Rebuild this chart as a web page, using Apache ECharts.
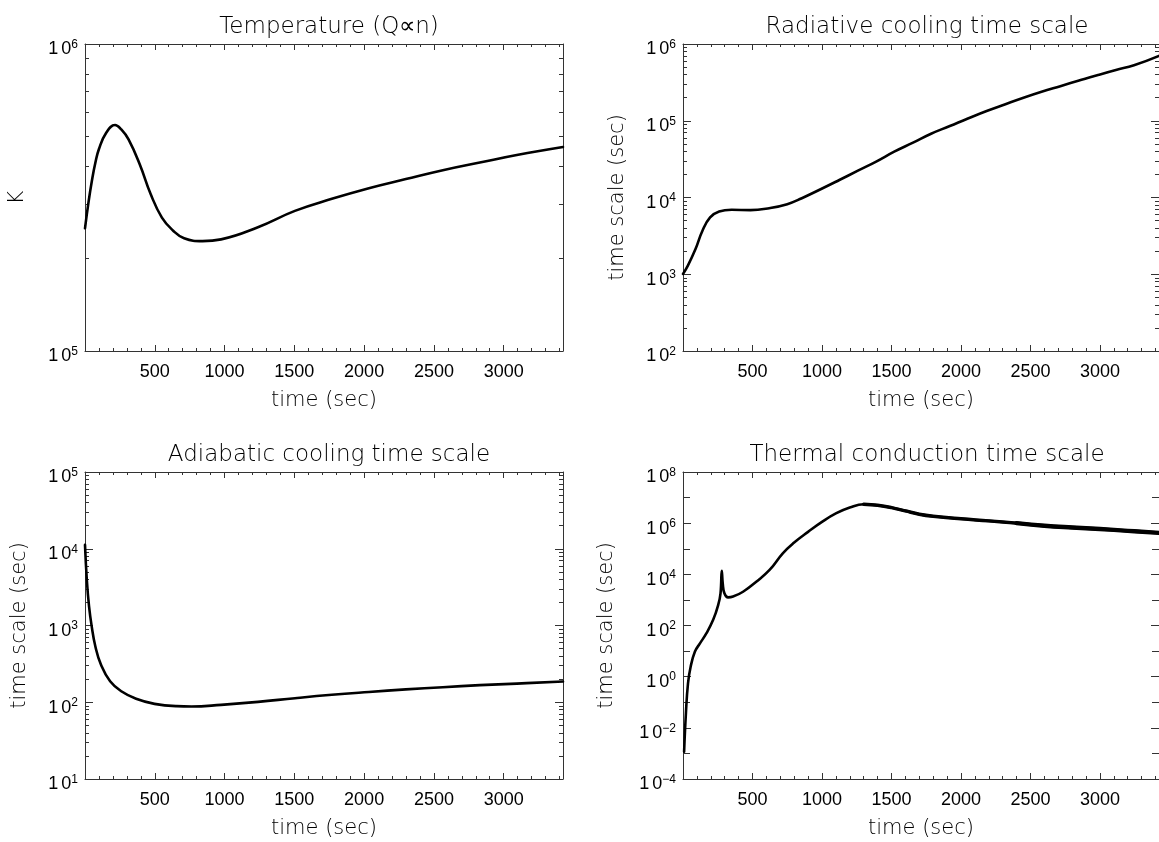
<!DOCTYPE html>
<html>
<head>
<meta charset="utf-8">
<script src="https://cdn.jsdelivr.net/npm/echarts@6/dist/echarts.min.js"></script>
<style>
  html, body { margin: 0; padding: 0; background: #fff; }
  #chart { width: 1159px; height: 842px; }
</style>
</head>
<body>
<div id="chart"></div>
<script>
// ---------------- data ----------------
// Panel 1: Temperature (K)
const tempTime = [0, 25, 50, 75, 100, 150, 215, 260, 312, 392, 471, 551, 630, 710, 842, 975, 1239, 1504, 1769, 2034, 2299, 2564, 2829, 3094, 3425];
const tempK = [2.51e5, 3.05e5, 3.6e5, 4.12e5, 4.55e5, 5.12e5, 5.45e5, 5.27e5, 4.89e5, 4.06e5, 3.24e5, 2.72e5, 2.47e5, 2.33e5, 2.28e5, 2.31e5, 2.53e5, 2.86e5, 3.13e5, 3.39e5, 3.63e5, 3.88e5, 4.11e5, 4.35e5, 4.62e5];

// Panel 2: Radiative cooling time scale (sec)
const radTime = [0, 35, 90, 140, 195, 260, 350, 485, 620, 750, 855, 990, 1125, 1255, 1390, 1520, 1655, 1785, 1920, 2050, 2185, 2315, 2450, 2580, 2715, 2850, 2980, 3115, 3245, 3425];
const radTau = [1009, 1297, 2133, 3690, 5495, 6577, 6918, 6855, 7261, 8185, 9795, 1.28e4, 1.69e4, 2.22e4, 2.94e4, 3.95e4, 5.18e4, 6.78e4, 8.53e4, 1.07e5, 1.34e5, 1.63e5, 1.99e5, 2.38e5, 2.82e5, 3.34e5, 3.92e5, 4.59e5, 5.28e5, 7.0e5];

// Panel 3: Adiabatic cooling time scale (sec)
const adiTime = [0, 13, 29, 48, 74, 114, 180, 260, 366, 498, 657, 763, 975, 1240, 1505, 1769, 2034, 2299, 2564, 2829, 3094, 3425];
const adiTau = [1.125e4, 3945, 1774, 975, 536, 310, 188, 139, 111, 95.3, 88.9, 88.1, 92.5, 101, 113, 125, 136, 147, 157, 167, 175, 186];

// Panel 4: Thermal conduction time scale (sec)
const condTime = [8, 21, 36, 55, 86, 122, 169, 217, 253, 270, 279, 286, 298, 324, 360, 432, 527, 623, 718, 800, 900, 1000, 1100, 1200, 1300, 1400, 1500, 1600, 1700, 1800, 2000, 2200, 2400, 2600, 2800, 3000, 3200, 3425];
const condTau = [1.17e-3, 0.0372, 0.55, 2.45, 9.55, 20, 50.1, 166, 631, 1820, 1.38e4, 4467, 1820, 1259, 1349, 2089, 5129, 1.48e4, 6.61e4, 1.74e5, 4.57e5, 1.12e6, 2.40e6, 4.07e6, 5.50e6, 5.01e6, 4.07e6, 3.02e6, 2.24e6, 1.86e6, 1.48e6, 1.23e6, 1.0e6, 7.94e5, 6.76e5, 5.89e5, 5.01e5, 4.17e5];
// where the conduction curve becomes visibly noisy (drawn as a thicker trace)
const condNoisyFrom = 1300;
const condNoisierFrom = 2400;

// ---------------- axis ticks ----------------
const timeMax = 3425;
const timeMajorStep = 500;
const timeMinorStep = 100;
const decadesTemp = [5, 6];
const decadesRad = [2, 3, 4, 5, 6];
const decadesAdi = [1, 2, 3, 4, 5];
const decadesCond = [-4, -2, 0, 2, 4, 6, 8];
const logMinorMultipliers = [2, 3, 4, 5, 6, 7, 8, 9];

const titles = ['Temperature (Q\u221Dn)', 'Radiative cooling time scale', 'Adiabatic cooling time scale', 'Thermal conduction time scale'];
const yNames = ['K', 'time scale (sec)', 'time scale (sec)', 'time scale (sec)'];
const xName = 'time (sec)';

// ---------------- layout / style ----------------
const TICK_FONT = '"Liberation Sans", Arial, sans-serif';
const TEXT_FONT = '"DejaVu Sans", sans-serif';
const TEXT_WEIGHT = 200;
const AX_COLOR = '#333';
const grids = [
  { left: 85, top: 44, width: 478, height: 307 },
  { left: 683, top: 44, width: 478, height: 307 },
  { left: 85, top: 472, width: 478, height: 307 },
  { left: 683, top: 472, width: 478, height: 307 }
];
const yNameGaps = [57, 55, 55, 66];

const panels = [
  { t: tempTime, v: tempK, dec: decadesTemp, minorMode: 'log' },
  { t: radTime, v: radTau, dec: decadesRad, minorMode: 'log' },
  { t: adiTime, v: adiTau, dec: decadesAdi, minorMode: 'log' },
  { t: condTime, v: condTau, dec: decadesCond, minorMode: 'odd' }
];

function supLabel(n) {
  const e = n < 0 ? '\u2212' + (-n) : String(n);
  return '{o|1}{b|0}{s|' + e + '}';
}

const xMinorVals = [];
for (let v = timeMinorStep; v < timeMax; v += timeMinorStep) {
  if (v % timeMajorStep !== 0) xMinorVals.push(v);
}

const xAxes = [], yAxes = [], series = [], titleOpts = [];
const lineBase = {
  type: 'line', showSymbol: false, symbol: 'none',
  smooth: 0.45,
  silent: true, animation: false
};

panels.forEach((p, i) => {
  const lo = p.dec[0], hi = p.dec[p.dec.length - 1];
  const step = p.dec[1] - p.dec[0];
  let yMinorVals = [];
  if (p.minorMode === 'log') {
    for (let d = lo; d < hi; d++) {
      logMinorMultipliers.forEach(m => yMinorVals.push(d + Math.log10(m)));
    }
  } else {
    for (let d = lo + 1; d < hi; d += 2) yMinorVals.push(d);
  }
  const yMinorLen = p.minorMode === 'log' ? 4 : 7;

  const xBase = {
    type: 'value', gridIndex: i, min: 0, max: timeMax, interval: timeMajorStep,
    splitLine: { show: false },
    axisLine: { show: true, onZero: false, lineStyle: { color: AX_COLOR, width: 1 } }
  };
  const xi = xAxes.length;
  xAxes.push(Object.assign({}, xBase, {
    position: 'bottom',
    axisTick: { show: true, inside: true, length: 6, lineStyle: { color: AX_COLOR } },
    axisLabel: { show: true, showMinLabel: false, showMaxLabel: false, margin: 12,
      formatter: v => String(v),
      fontFamily: TICK_FONT, fontSize: 18, color: '#000' },
    name: xName, nameLocation: 'middle', nameGap: 39,
    nameTextStyle: { fontFamily: TEXT_FONT, fontWeight: TEXT_WEIGHT, fontSize: 21, color: '#000' }
  }));
  xAxes.push(Object.assign({}, xBase, {
    position: 'top',
    axisTick: { show: true, inside: true, length: 6, lineStyle: { color: AX_COLOR } },
    axisLabel: { show: false }
  }));
  ['bottom', 'top'].forEach(pos => {
    xAxes.push(Object.assign({}, xBase, {
      position: pos,
      axisLine: { show: false, onZero: false },
      axisTick: { show: true, inside: true, length: 3, customValues: xMinorVals, lineStyle: { color: AX_COLOR } },
      axisLabel: { show: false }
    }));
  });

  const yBase = {
    type: 'value', gridIndex: i, min: lo, max: hi, interval: step,
    splitLine: { show: false },
    axisLine: { show: true, onZero: false, lineStyle: { color: AX_COLOR, width: 1 } }
  };
  const yi = yAxes.length;
  yAxes.push(Object.assign({}, yBase, {
    position: 'left',
    axisTick: { show: true, inside: true, length: 8, lineStyle: { color: AX_COLOR } },
    axisLabel: {
      show: true, margin: 7, padding: [11, 0, 0, 0],
      formatter: v => supLabel(Math.round(v)),
      rich: {
        o: { fontFamily: TICK_FONT, fontSize: 18, lineHeight: 22, color: '#000', padding: [0, 3, 0, 0] },
        b: { fontFamily: TICK_FONT, fontSize: 18, lineHeight: 22, color: '#000' },
        s: { fontFamily: TICK_FONT, fontSize: 12, lineHeight: 12, color: '#000', verticalAlign: 'top' }
      }
    },
    name: yNames[i], nameLocation: 'middle', nameGap: yNameGaps[i],
    nameTextStyle: { fontFamily: TEXT_FONT, fontWeight: TEXT_WEIGHT, fontSize: 21, color: '#000' }
  }));
  yAxes.push(Object.assign({}, yBase, {
    position: 'right',
    axisTick: { show: true, inside: true, length: 8, lineStyle: { color: AX_COLOR } },
    axisLabel: { show: false }
  }));
  ['left', 'right'].forEach(pos => {
    yAxes.push(Object.assign({}, yBase, {
      position: pos,
      axisLine: { show: false, onZero: false },
      axisTick: { show: true, inside: true, length: yMinorLen, customValues: yMinorVals, lineStyle: { color: AX_COLOR } },
      axisLabel: { show: false }
    }));
  });

  const pts = p.t.map((t, k) => [t, Math.log10(p.v[k])]);
  series.push(Object.assign({}, lineBase, {
    xAxisIndex: xi, yAxisIndex: yi, data: pts,
    lineStyle: { color: '#000', width: 2.6, cap: 'round', join: 'round' }
  }));
  if (i === 3) {
    series.push(Object.assign({}, lineBase, {
      xAxisIndex: xi, yAxisIndex: yi, data: pts.filter(d => d[0] >= condNoisyFrom),
      lineStyle: { color: '#000', width: 3.4, cap: 'round', join: 'round' }
    }));
    series.push(Object.assign({}, lineBase, {
      xAxisIndex: xi, yAxisIndex: yi, data: pts.filter(d => d[0] >= condNoisierFrom),
      lineStyle: { color: '#000', width: 4.4, cap: 'round', join: 'round' }
    }));
  }

  const g = grids[i];
  titleOpts.push({
    text: titles[i],
    left: g.left + g.width / 2, top: g.top - 33, textAlign: 'center',
    textStyle: { fontFamily: TEXT_FONT, fontSize: 23, fontWeight: TEXT_WEIGHT, color: '#000' }
  });
});

const chart = echarts.init(document.getElementById('chart'), null, { renderer: 'canvas' });
chart.setOption({
  backgroundColor: '#fff',
  animation: false,
  title: titleOpts,
  grid: grids,
  xAxis: xAxes,
  yAxis: yAxes,
  series: series
});
</script>
</body>
</html>
